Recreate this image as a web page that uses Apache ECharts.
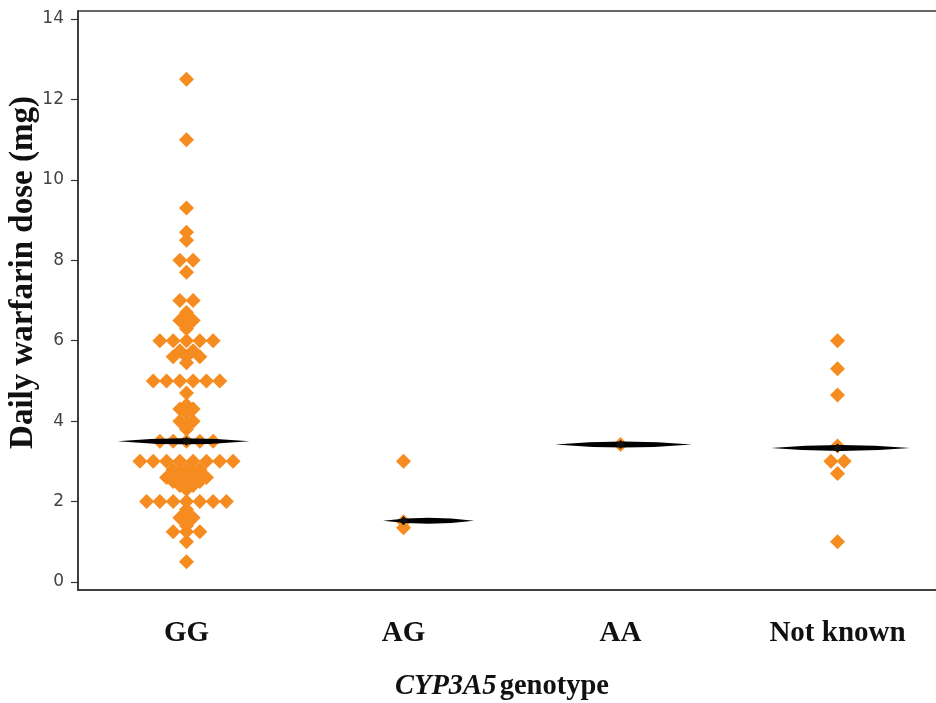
<!DOCTYPE html>
<html><head><meta charset="utf-8">
<script src="https://cdn.jsdelivr.net/npm/echarts@6/dist/echarts.min.js"></script>
<style>html,body{margin:0;padding:0;background:#fff}#c{width:936px;height:703px}</style>
</head><body><div id="c"></div>
<script>
// ---- data ----
const categories = ['GG', 'AG', 'AA', 'Not known'];
const ggValues = [
  12.5, 11.0, 9.3, 8.7, 8.5, 8.0, 8.0, 7.7, 7.0, 7.0,
  6.7, 6.6, 6.5, 6.5, 6.4, 6.3,
  6.0, 6.0, 6.0, 6.0, 6.0,
  5.75, 5.75, 5.6, 5.6, 5.6, 5.45,
  5.0, 5.0, 5.0, 5.0, 5.0, 5.0,
  4.7,
  4.4, 4.3, 4.3, 4.2, 4.0, 4.0, 3.9, 3.8,
  3.5, 3.5, 3.5, 3.5, 3.5,
  3.0, 3.0, 3.0, 3.0, 3.0, 3.0, 3.0, 3.0,
  2.8, 2.8, 2.8, 2.7, 2.7, 2.6, 2.6, 2.6, 2.6, 2.5, 2.5, 2.5, 2.4, 2.4, 2.3,
  2.0, 2.0, 2.0, 2.0, 2.0, 2.0, 2.0,
  1.8, 1.7, 1.6, 1.6, 1.5, 1.4,
  1.25, 1.25, 1.25,
  1.0, 0.5
];
const agValues = [3.0, 1.5, 1.35];
const aaValues = [3.42];
const nkValues = [6.0, 5.3, 4.65, 3.38, 3.0, 3.0, 2.7, 1.0];
const centralValues = [3.5, 1.52, 3.42, 3.33];
const yTickValues = [0, 2, 4, 6, 8, 10, 12, 14];

// ---- styles ----
const ORANGE = '#F68B1F';
const DOT_SIZE = 15;
const ROW_SPACING = 13.3;
const lineWidths = [132, 91, 137, 139];
const lineShift = [-3, 25, 3, 3];

const groups = [ggValues, agValues, aaValues, nkValues];
const pointData = [];
groups.forEach((vals, ci) => {
  const counts = {};
  vals.forEach(v => { counts[v] = (counts[v] || 0) + 1; });
  const seen = {};
  vals.forEach(v => {
    const n = counts[v];
    const k = seen[v] = (seen[v] === undefined ? 0 : seen[v] + 1);
    const dx = (k - (n - 1) / 2) * ROW_SPACING;
    pointData.push({ value: [ci, v], symbolOffset: [dx, 0] });
  });
});

const lineData = centralValues.map((v, i) => ({
  value: [i, v], symbolSize: [lineWidths[i], 6], symbolOffset: [lineShift[i], 0]
}));

const chart = echarts.init(document.getElementById('c'), null, { renderer: 'canvas' });
chart.setOption({
  animation: false,
  backgroundColor: '#fff',
  grid: { left: 78, right: -10, top: 11, bottom: 113, show: true, borderColor: '#333', borderWidth: 1.5,
    backgroundColor: 'transparent', containLabel: false, outerBoundsMode: 'none' },
  xAxis: {
    type: 'category', data: categories, boundaryGap: true,
    axisLine: { onZero: false, lineStyle: { color: '#333', width: 1.5 } },
    axisTick: { alignWithLabel: true, length: 7, lineStyle: { color: '#333', width: 1.2 } },
    axisLabel: { margin: 29, color: '#111', fontFamily: 'Liberation Serif', fontWeight: 'bold', fontSize: 29 },
    name: '{i|CYP3A5} {n|genotype}', nameLocation: 'middle', nameGap: 82, nameMoveOverlap: false,
    nameTextStyle: {
      padding: [0, 20, 0, 0],
      rich: {
        i: { fontFamily: 'Liberation Serif', fontStyle: 'italic', fontWeight: 'bold', fontSize: 28.5, color: '#111' },
        n: { fontFamily: 'Liberation Serif', fontWeight: 'bold', fontSize: 28.5, color: '#111' }
      }
    },
    splitLine: { show: false }
  },
  yAxis: {
    type: 'value', min: -0.2, max: 14.2,
    axisLine: { show: true, onZero: false, lineStyle: { color: '#333', width: 1.5 } },
    axisTick: { show: true, length: 7, customValues: yTickValues, lineStyle: { color: '#333', width: 1.2 } },
    axisLabel: { customValues: yTickValues, margin: 14, color: '#444', fontFamily: 'DejaVu Sans', fontSize: 17 },
    splitLine: { show: false },
    name: 'Daily warfarin dose (mg)', nameLocation: 'middle', nameGap: 38, nameRotate: 90, nameMoveOverlap: false,
    nameTextStyle: { fontFamily: 'Liberation Serif', fontWeight: 'bold', fontSize: 33, color: '#111', padding: [0, 0, 0, 56] }
  },
  series: [
    { type: 'scatter', name: 'points', data: pointData, symbol: 'diamond', symbolSize: DOT_SIZE,
      itemStyle: { color: ORANGE, opacity: 1 }, z: 2 },
    { type: 'scatter', name: 'central', data: lineData, symbol: 'path://M0 50 Q50 0 100 50 Q50 100 0 50 Z',
      symbolKeepAspect: false, itemStyle: { color: '#000', opacity: 1 }, z: 3 },
    { type: 'scatter', name: 'centralDot', data: centralValues.map((v, i) => [i, v]), symbol: 'diamond', symbolSize: 9,
      itemStyle: { color: '#111', opacity: 1 }, z: 4 }
  ]
});
</script></body></html>
